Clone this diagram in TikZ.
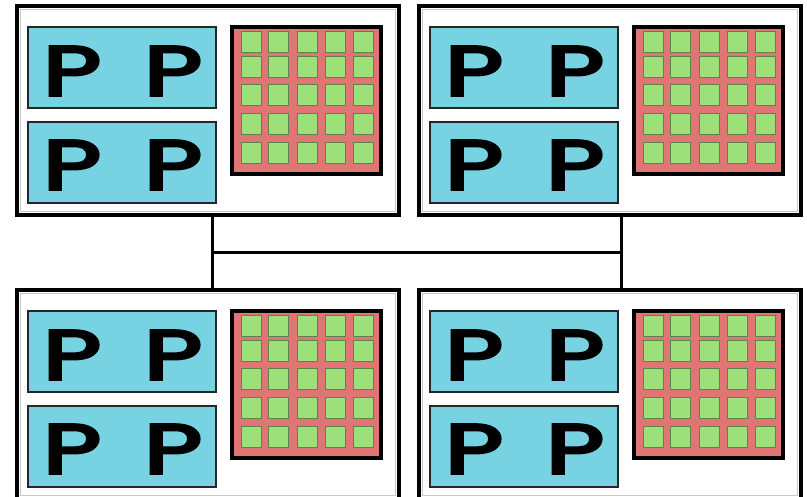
\documentclass[tikz,border=0pt]{standalone}
\usepackage{fontspec}
\usetikzlibrary{calc}
\newfontfamily\pfont{Poppins}[FakeBold=4]

\definecolor{corecyan}{HTML}{77D3E2}
\definecolor{memred}{HTML}{E07673}
\definecolor{cellgreen}{HTML}{9DE07A}
\definecolor{celledge}{HTML}{5E8250}

\newcommand{\corelabel}{\scalebox{1.44}[1]{P}}

\tikzset{
  outerbox/.style={draw=black, line width=3.5pt, fill=white, inner sep=0pt,
    minimum width=382pt, minimum height=209pt},
  innerrim/.style={draw=black!22, line width=0.8pt, inner sep=0pt,
    minimum width=375pt, minimum height=202pt},
  corebox/.style={draw=black!85, line width=1.4pt, fill=corecyan, inner sep=0pt,
    minimum width=188pt, minimum height=81pt},
  letter/.style={inner sep=0pt, font=\pfont\fontsize{70}{70}\selectfont},
  membox/.style={draw=black, line width=3.3pt, fill=memred, inner sep=0pt,
    minimum width=149pt, minimum height=147pt},
  cell/.style={draw=celledge, line width=0.9pt, fill=cellgreen, inner sep=0pt,
    minimum width=20.5pt, minimum height=21pt},
  bus/.style={draw=black, line width=3.5pt},
  % one node: two dual-core sockets and a memory bank
  cpu/.pic={
    \node[outerbox] (-box) at (191,104.5) {};
    \node[innerrim] (-rim) at (-box.center) {};
    \node[corebox] (-c1) at (105,61.5) {};
    \node[corebox] (-c2) at (105,156.5) {};
    \node[letter] (-p11) at (55,65) {\corelabel};
    \node[letter] (-p12) at (156,65) {\corelabel};
    \node[letter] (-p21) at (55,159) {\corelabel};
    \node[letter] (-p22) at (156,159) {\corelabel};
    \node[membox] (-mem) at (289.5,94.5) {};
    \foreach \cx [count=\i] in {234.3,261.3,290.3,318.3,346.3}
      \foreach \cy [count=\j] in {35.5,60.5,88.5,117.5,146.5}
        \node[cell] (-cell\i\j) at (\cx,\cy) {};
  }
}

\begin{document}
\begin{tikzpicture}[x=1pt,y=-1pt]
  \useasboundingbox (0,0) rectangle (807,496);

  \pic (tl) at (17,6) {cpu};
  \pic (tr) at (419,6) {cpu};
  \pic (bl) at (17,290) {cpu};
  \pic (br) at (419,290) {cpu};

  % interconnect between the four nodes
  \coordinate (jtl) at ([xshift=197pt]tl-box.south west);
  \coordinate (jbl) at ([xshift=197pt]bl-box.north west);
  \coordinate (jtr) at ([xshift=204pt]tr-box.south west);
  \coordinate (jbr) at ([xshift=204pt]br-box.north west);
  \coordinate (ml) at ($(jtl)!0.5!(jbl)$);
  \coordinate (mr) at ($(jtr)!0.5!(jbr)$);

  \draw[bus] (jtl) -- (jbl);
  \draw[bus] (jtr) -- (jbr);
  \draw[bus] (ml) -- (mr);
\end{tikzpicture}
\end{document}
